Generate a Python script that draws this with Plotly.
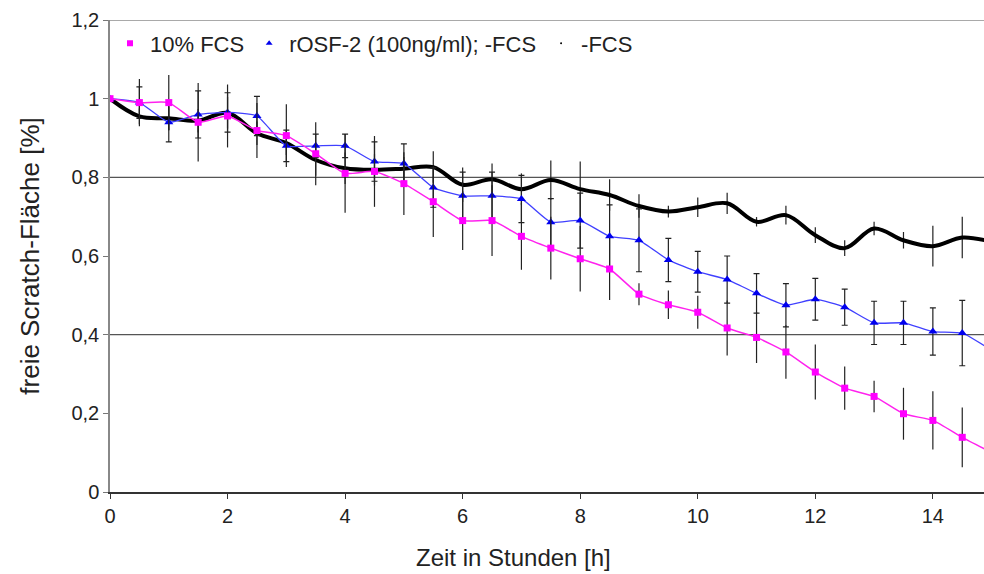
import plotly.graph_objects as go

# time points [h]
hours = [0, 0.5, 1, 1.5, 2, 2.5, 3, 3.5, 4, 4.5, 5, 5.5, 6, 6.5, 7, 7.5,
         8, 8.5, 9, 9.5, 10, 10.5, 11, 11.5, 12, 12.5, 13, 13.5, 14, 14.5, 15]

# 10% FCS (magenta squares)
fcs10 = [1.0, 0.99, 0.99, 0.94, 0.956, 0.919, 0.906, 0.86, 0.81, 0.815, 0.784, 0.738,
         0.69, 0.69, 0.65, 0.62, 0.593, 0.567, 0.503, 0.476, 0.457, 0.417, 0.393,
         0.356, 0.305, 0.264, 0.243, 0.199, 0.182, 0.139, 0.10]
fcs10_err = [0, 0.06, 0.07, 0.1, 0.08, 0.07, 0.08, 0.08, 0.1, 0.09, 0.08, 0.09, 0.075,
             0.09, 0.085, 0.08, 0.083, 0.079, 0.028, 0.036, 0.042, 0.07, 0.065, 0.068,
             0.07, 0.055, 0.04, 0.066, 0.074, 0.076, 0.06]

# rOSF-2 (100ng/ml); -FCS (blue triangles)
rosf = [1.0, 0.99, 0.94, 0.96, 0.965, 0.956, 0.88, 0.88, 0.88, 0.84, 0.835, 0.774,
        0.753, 0.753, 0.745, 0.686, 0.69, 0.65, 0.64, 0.59, 0.56, 0.54, 0.505, 0.475,
        0.49, 0.47, 0.43, 0.43, 0.408, 0.404, 0.36]
rosf_err = [0, 0.04, 0.05, 0.06, 0.05, 0.05, 0.04, 0.03, 0.03, 0.05, 0.05, 0.05, 0.06,
            0.06, 0.06, 0.06, 0.07, 0.08, 0.08, 0.055, 0.052, 0.06, 0.05, 0.055, 0.053,
            0.046, 0.055, 0.055, 0.06, 0.083, 0.06]

# -FCS (black line)
nofcs = [1.0, 0.955, 0.95, 0.944, 0.964, 0.912, 0.887, 0.844, 0.823, 0.819, 0.822,
         0.826, 0.781, 0.795, 0.77, 0.793, 0.77, 0.755, 0.727, 0.713, 0.724, 0.734,
         0.687, 0.704, 0.653, 0.62, 0.67, 0.64, 0.625, 0.647, 0.636]
nofcs_err = [0, 0.02, 0.03, 0.03, 0.04, 0.03, 0.03, 0.04, 0.04, 0.04, 0.03, 0.04, 0.044,
             0.04, 0.04, 0.05, 0.07, 0.04, 0.03, 0.015, 0.025, 0.027, 0.012, 0.024, 0.02,
             0.02, 0.017, 0.021, 0.052, 0.053, 0.03]

y_ticks = [0, 0.2, 0.4, 0.6, 0.8, 1.0, 1.2]
y_grid = [0.4, 0.8, 1.2]
x_ticks = [0, 2, 4, 6, 8, 10, 12, 14]

FONT = "Liberation Sans, Arial, sans-serif"
ERR = "#222222"

fig = go.Figure()

fig.add_trace(go.Scatter(
    x=hours, y=nofcs, mode="lines", name="-FCS", showlegend=False,
    line=dict(color="black", width=4, shape="spline", smoothing=1.0),
    error_y=dict(type="data", array=nofcs_err, color=ERR, thickness=1.2, width=0),
))
fig.add_trace(go.Scatter(
    x=hours, y=rosf, mode="lines+markers", name="rOSF-2 (100ng/ml); -FCS", showlegend=False,
    line=dict(color="#4040ff", width=1.3, shape="spline", smoothing=0.5),
    marker=dict(symbol="triangle-up", size=8, color="#0000ee"),
    error_y=dict(type="data", array=rosf_err, color=ERR, thickness=1.2, width=3),
))
fig.add_trace(go.Scatter(
    x=hours, y=fcs10, mode="lines+markers", name="10% FCS", showlegend=False,
    line=dict(color="#ff22ee", width=1.5, shape="spline", smoothing=0.5),
    marker=dict(symbol="square", size=7, color="#ff00ff"),
    error_y=dict(type="data", array=fcs10_err, color=ERR, thickness=1.2, width=0),
))

# legend-only entries (marker symbols as in the original legend)
fig.add_trace(go.Scatter(x=[None], y=[None], mode="markers", name="10% FCS",
                         marker=dict(symbol="square", size=6, color="#ff00ff")))
fig.add_trace(go.Scatter(x=[None], y=[None], mode="markers", name="rOSF-2 (100ng/ml); -FCS",
                         marker=dict(symbol="triangle-up", size=6, color="#0000ee")))
fig.add_trace(go.Scatter(x=[None], y=[None], mode="markers", name="-FCS",
                         marker=dict(symbol="circle", size=2, color="black")))

for g in y_grid:
    fig.add_hline(y=g, line=dict(color="#555555", width=1.2), layer="below")

fig.add_annotation(text="Zeit in Stunden [h]", xref="paper", yref="paper",
                   x=0.462, y=-0.105, xanchor="center", yanchor="top",
                   showarrow=False, font=dict(size=24))

fig.update_layout(
    width=984, height=574,
    margin=dict(l=110, r=0, t=20, b=82),
    paper_bgcolor="white", plot_bgcolor="white",
    separators=", ",
    font=dict(family=FONT, color="#222222", size=20),
    showlegend=True,
    legend=dict(orientation="h", x=0.0, y=0.995, xanchor="left", yanchor="top",
                bgcolor="rgba(0,0,0,0)", font=dict(size=22), itemwidth=30,
                tracegroupgap=0, itemclick=False),
    xaxis=dict(range=[0, 14.87], tickvals=x_ticks, ticks="outside", ticklen=5,
               tickcolor="#333333", showline=True, linecolor="#333333", linewidth=1.5,
               showgrid=False, zeroline=False, automargin=False,
               tickfont=dict(size=20)),
    yaxis=dict(range=[0, 1.2], tickvals=y_ticks, ticks="outside", ticklen=5,
               tickcolor="#777777", showline=True, linecolor="#888888", linewidth=1.5,
               showgrid=False, zeroline=False, automargin=False,
               title=dict(text="freie Scratch-Fläche [%]", font=dict(size=26), standoff=24),
               tickfont=dict(size=20)),
)

fig.write_html("out.html", config={"displayModeBar": False},
               post_script="document.body.style.margin='0px';")
